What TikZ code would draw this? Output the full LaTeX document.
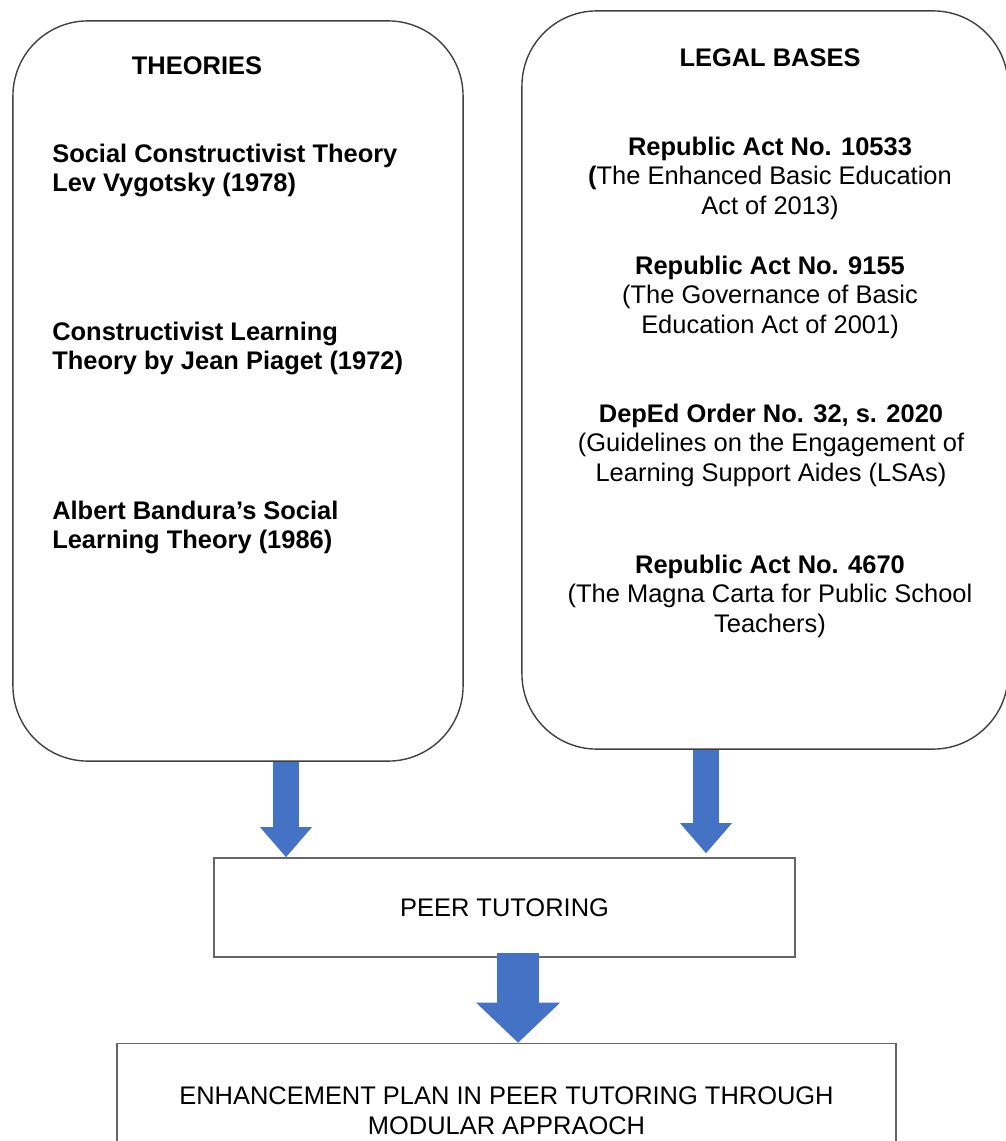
\documentclass[tikz,border=0pt]{standalone}
\usepackage{fontspec}
\setmainfont{Liberation Sans}
\usetikzlibrary{arrows.meta,positioning}

\begin{document}
\begin{tikzpicture}[x=0.025cm,y=-0.025cm]
\colorlet{box edge}{black!75}
\definecolor{arrow fill}{HTML}{4472C4}
\tikzset{
     roundbox/.style={draw=box edge, line width=1pt, rounded corners=1.875cm, inner sep=0pt},
     plainbox/.style={draw=black!60, line width=1.2pt, inner sep=0pt, align=center},
     txt/.style={font=\fontsize{18.1}{21}\selectfont, inner sep=0pt},
     head/.style={txt, font=\fontsize{18.1}{21}\selectfont\bfseries},
     item/.style={head, anchor=west, align=left},
     law/.style={txt, align=center},
     blockarrow/.style={draw=arrow fill, line width=0.65cm,
        -{Triangle[length=0.75cm, width=1.3cm, line width=0pt]}},
     bigarrow/.style={draw=arrow fill, line width=1.05cm,
        -{Triangle[length=1cm, width=2.1cm, line width=0pt]}}}

\useasboundingbox (0,0) rectangle (1005,1141);

% The boxes
\node (theories) [roundbox, minimum width=11.25cm, minimum height=18.5cm] at (238,391) {};
\node (legal) [roundbox, minimum width=12.15cm, minimum height=18.45cm] at (765,380) {};
\node (peer) [plainbox, txt, minimum width=14.525cm, minimum height=2.475cm] at (504.5,907.5) {PEER TUTORING};
\node (plan) [plainbox, txt, minimum width=19.475cm, minimum height=3.35cm] at (506.5,1110.5)
     {ENHANCEMENT PLAN IN PEER TUTORING THROUGH\\MODULAR APPRAOCH};

% The theories
\node (theohead) [head] at (197,66) {THEORIES};
\node (vygotsky) [item] at (52,170.5) {Social Constructivist Theory\\Lev Vygotsky (1978)};
\node (piaget) [item] at (52,348.5) {Constructivist Learning\\Theory by Jean Piaget (1972)};
\node (bandura) [item] at (52,527.5) {Albert Bandura’s Social\\Learning Theory (1986)};

% The legal bases
\node (legalhead) [head] at (770,58) {LEGAL BASES};
\node (ra10533) [law] at (770,178) {\textbf{Republic Act No. 10533}\\\textbf{(}The Enhanced Basic Education\\Act of 2013)};
\node (ra9155) [law] at (770,297) {\textbf{Republic Act No. 9155}\\(The Governance of Basic\\Education Act of 2001)};
\node (deped) [law] at (771,445) {\textbf{DepEd Order No. 32, s. 2020}\\(Guidelines on the Engagement of\\Learning Support Aides (LSAs)};
\node (ra4670) [law] at (770,596) {\textbf{Republic Act No. 4670}\\(The Magna Carta for Public School\\Teachers)};

% The arrows
\draw [blockarrow] ([xshift=1.2cm]theories.south) -- ([xshift=1.2cm]theories.south |- peer.north);
\draw [blockarrow] ([xshift=-1.475cm]legal.south) -- ([xshift=-1.475cm,yshift=0.1cm]legal.south |- peer.north);
\draw [bigarrow] ([xshift=0.34cm,yshift=0.125cm]peer.south) -- ([xshift=0.34cm]peer.south |- plan.north);
\end{tikzpicture}
\end{document}
